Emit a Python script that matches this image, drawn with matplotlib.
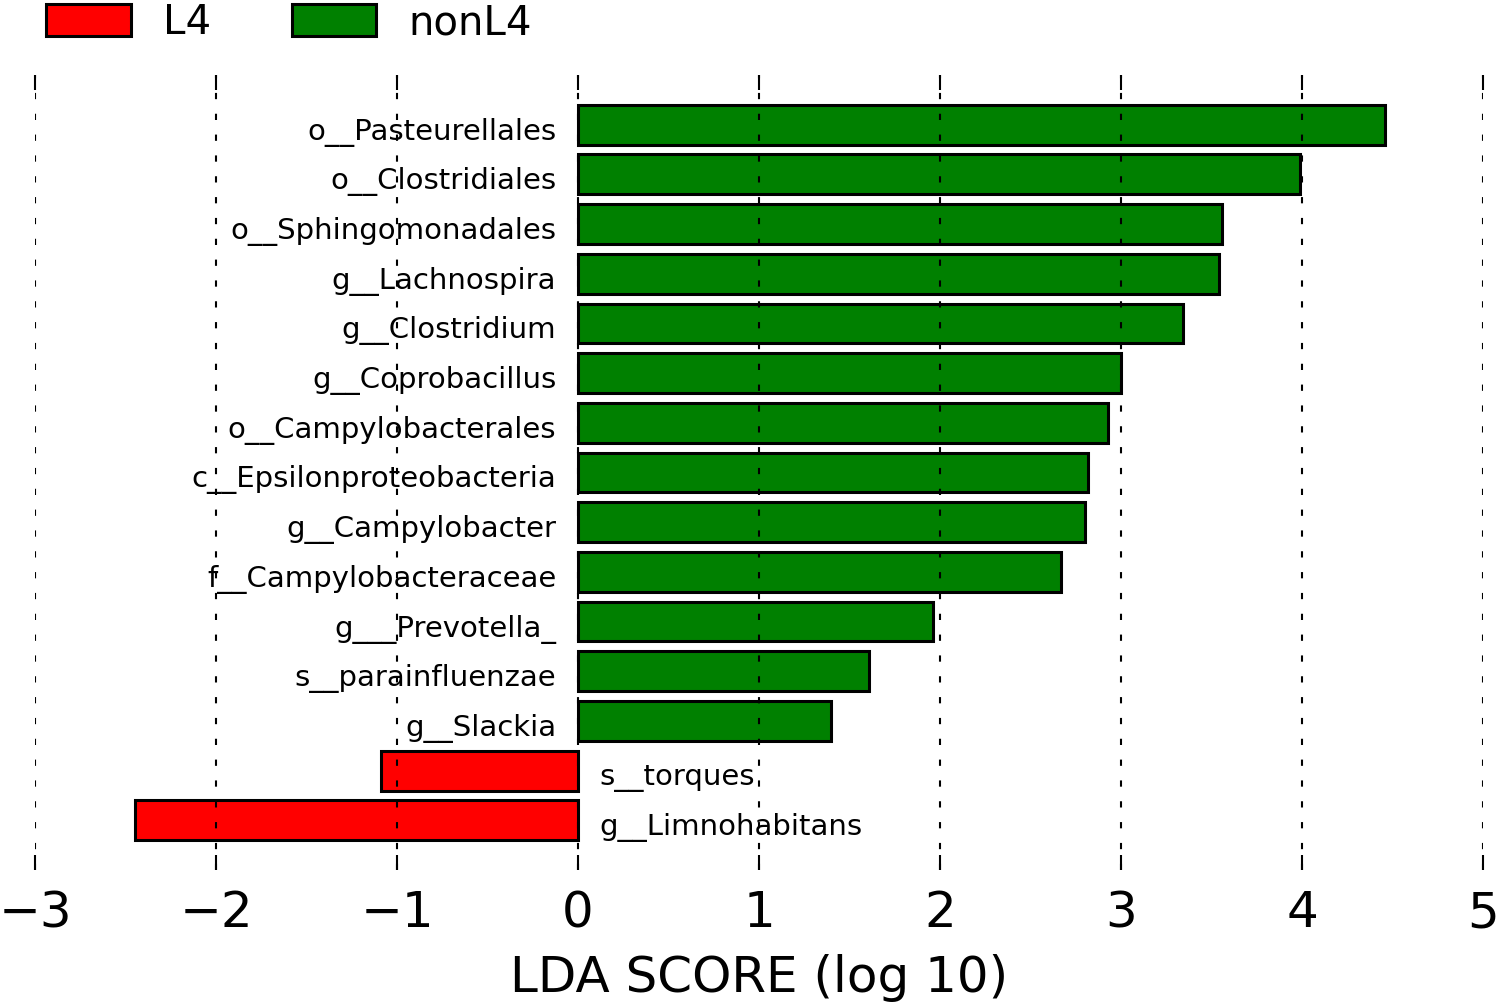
import numpy as np
import matplotlib
matplotlib.use("Agg")
import matplotlib.pyplot as plt
from matplotlib.patches import Patch

# taxa from top to bottom, LDA score (log 10), group
taxa = ['o__Pasteurellales', 'o__Clostridiales', 'o__Sphingomonadales',
        'g__Lachnospira', 'g__Clostridium', 'g__Coprobacillus',
        'o__Campylobacterales', 'c__Epsilonproteobacteria', 'g__Campylobacter',
        'f__Campylobacteraceae', 'g___Prevotella_', 's__parainfluenzae',
        'g__Slackia', 's__torques', 'g__Limnohabitans']
scores = [4.46, 3.99, 3.56, 3.54, 3.34, 3.00, 2.93, 2.82, 2.80, 2.67,
          1.96, 1.61, 1.40, -1.09, -2.45]
groups = ['nonL4'] * 13 + ['L4'] * 2

group_names = ['L4', 'nonL4']
group_colors = {'L4': '#ff0000', 'nonL4': '#008000'}

# bottom-to-top for barh
taxa_b = taxa[::-1]
scores_b = scores[::-1]
groups_b = groups[::-1]
ypos = np.arange(len(taxa_b))

fig = plt.figure(figsize=(15, 10.07), dpi=100)
ax = fig.add_axes([35 / 1500, 1 - 870 / 1007, (1483 - 35) / 1500, (870 - 75) / 1007])

ax.barh(ypos, scores_b, height=0.8, color=[group_colors[g] for g in groups_b],
        edgecolor='black', linewidth=2.2)

for y, s, name in zip(ypos, scores_b, taxa_b):
    if s > 0:
        ax.text(-0.12, y - 0.15, name, ha='right', va='center', fontsize=21)
    else:
        ax.text(0.12, y - 0.15, name, ha='left', va='center', fontsize=21)

ax.set_xlim(-3, 5)
ax.set_ylim(-1, 15)
ax.set_xticks(range(-3, 6))
ax.set_yticks([])
for sp in ax.spines.values():
    sp.set_visible(False)
ax.set_axisbelow(False)
ax.xaxis.grid(True, color='black', linewidth=1.5, linestyle=(0, (3, 7)))
ax.tick_params(axis='x', which='both', direction='in', top=True, bottom=True,
               length=11, width=1.5, labelsize=36, pad=14)
ax.set_xlabel('LDA SCORE (log 10)', fontsize=36, labelpad=12)

handles = [Patch(facecolor=group_colors[g], edgecolor='black', linewidth=2.2, label=g)
           for g in group_names]
fig.legend(handles=handles, loc='upper left', bbox_to_anchor=(0.02, 1.013), ncol=2,
           frameon=False, fontsize=29, handlelength=2.1, handleheight=0.85,
           handletextpad=0.8, columnspacing=2.0, borderaxespad=0)

fig.savefig('out.png', dpi=100)
